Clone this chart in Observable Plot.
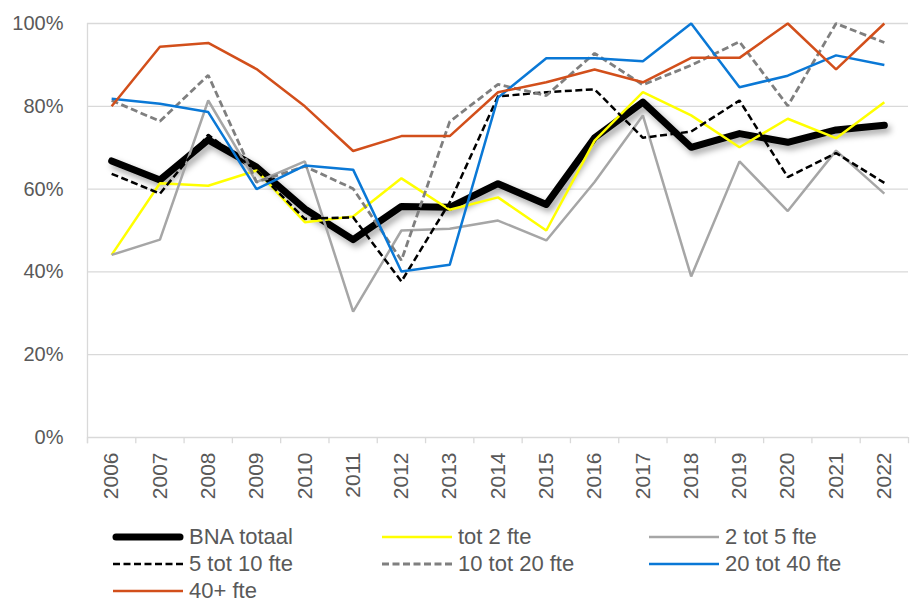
<!DOCTYPE html>
<html>
<head>
<meta charset="utf-8">
<script src="https://cdn.jsdelivr.net/npm/d3@7"></script>
<script src="https://cdn.jsdelivr.net/npm/@observablehq/plot@0.6"></script>
<style>
  body { margin: 0; background: #fff; font-family: "Liberation Sans", Arial, sans-serif; }
  #chart svg { display: block; }
  #legend { position: relative; height: 87px; }
  .item { position: absolute; display: flex; align-items: center; height: 27px; font-size: 22px; color: #595959; white-space: nowrap; }
  .item svg { margin-right: 6px; overflow: visible; }
</style>
</head>
<body>
<div id="chart"></div>
<div id="legend"></div>
<script>
const years = [2006, 2007, 2008, 2009, 2010, 2011, 2012, 2013, 2014, 2015, 2016, 2017, 2018, 2019, 2020, 2021, 2022];
const yTicks = [0, 20, 40, 60, 80, 100];

const seriesNames = ["BNA totaal", "tot 2 fte", "2 tot 5 fte", "5 tot 10 fte", "10 tot 20 fte", "20 tot 40 fte", "40+ fte"];

const bnaTotaal = [66.8, 62.2, 71.9, 65.3, 55.2, 47.8, 55.8, 55.6, 61.3, 56.3, 72.4, 81.0, 70.1, 73.4, 71.3, 74.3, 75.4];
const tot2 = [44.1, 61.4, 60.8, 64.5, 52.0, 53.4, 62.6, 55.0, 58.0, 50.0, 71.7, 83.4, 77.8, 70.1, 77.0, 72.3, 81.0];
const tot2tot5 = [44.1, 47.8, 81.4, 61.7, 66.7, 30.4, 50.0, 50.4, 52.4, 47.6, 61.7, 77.8, 38.9, 66.7, 54.7, 69.3, 58.9];
const tot5tot10 = [63.7, 58.9, 73.1, 64.5, 52.8, 53.2, 37.7, 56.8, 82.4, 83.4, 84.1, 72.4, 73.9, 81.4, 62.9, 68.7, 61.5];
const tot10tot20 = [81.4, 76.4, 87.5, 61.7, 65.5, 60.1, 42.8, 76.3, 85.3, 82.6, 92.8, 85.2, 89.9, 95.6, 80.1, 100, 95.4];
const tot20tot40 = [81.8, 80.6, 78.6, 60.0, 65.7, 64.7, 40.1, 41.7, 82.1, 91.6, 91.6, 90.9, 100, 84.6, 87.4, 92.3, 90.0];
const plus40 = [80.0, 94.4, 95.3, 89.0, 80.0, 69.2, 72.8, 72.8, 83.4, 85.8, 88.9, 85.8, 91.7, 91.7, 100, 88.9, 100];

const seriesValues = [bnaTotaal, tot2, tot2tot5, tot5tot10, tot10tot20, tot20tot40, plus40];
const styles = [
  {stroke: "#000000", width: 7, dash: null},
  {stroke: "#ffff00", width: 2.5, dash: null},
  {stroke: "#a6a6a6", width: 2.5, dash: null},
  {stroke: "#000000", width: 2.5, dash: "7,3.5"},
  {stroke: "#7f7f7f", width: 2.8, dash: "7,3.5"},
  {stroke: "#0a78d6", width: 2.5, dash: null},
  {stroke: "#d24f1b", width: 2.5, dash: null}
];

const data = seriesNames.flatMap((name, s) => years.map((year, i) => ({series: name, year, value: seriesValues[s][i]})));
const boundaries = [years[0] - 0.5, ...years.map(y => y + 0.5)];

const lineMarks = seriesNames.map((name, s) => Plot.line(data.filter(d => d.series === name), {
  x: "year", y: "value",
  stroke: styles[s].stroke,
  strokeWidth: styles[s].width,
  strokeDasharray: styles[s].dash,
  strokeLinejoin: s === 0 ? "round" : "miter",
  strokeLinecap: s === 0 ? "round" : "butt"
}));

const chart = Plot.plot({
  width: 910, height: 515,
  marginLeft: 87, marginRight: 2, marginTop: 23, marginBottom: 78,
  style: {fontFamily: "'Liberation Sans', Arial, sans-serif", background: "#fff"},
  x: {domain: [years[0] - 0.5, years[years.length - 1] + 0.5], axis: null},
  y: {domain: [0, 100], axis: null},
  marks: [
    Plot.ruleY(yTicks, {stroke: "#d9d9d9", strokeWidth: 1.3}),
    Plot.ruleX(boundaries, {y1: -1.5, y2: 0, stroke: "#d9d9d9", strokeWidth: 1.3}),
    Plot.ruleX([boundaries[0]], {y1: -1.5, y2: 100, stroke: "#d9d9d9", strokeWidth: 1.3}),
    Plot.text(yTicks, {x: boundaries[0], y: d => d, text: d => d + "%", textAnchor: "end", dx: -24, fontSize: 20, fill: "#595959"}),
    Plot.text(years, {x: d => d, y: 0, text: d => String(d), rotate: -90, textAnchor: "end", dy: 15, fontSize: 21, fill: "#595959"}),
    ...lineMarks
  ]
});
document.getElementById("chart").appendChild(chart);
const lineGroups = chart.querySelectorAll('g[aria-label="line"]');
if (lineGroups.length) lineGroups[0].style.filter = "drop-shadow(3px 4px 3px rgba(0,0,0,0.35))";

// legend
const legend = document.getElementById("legend");
const colX = [113, 382, 649];
const rowTop = [8.5, 35.5, 62.5];
seriesNames.forEach((name, s) => {
  const col = s % 3, row = Math.floor(s / 3);
  const item = document.createElement("div");
  item.className = "item";
  item.style.left = colX[col] + "px";
  item.style.top = rowTop[row] + "px";
  const st = styles[s];
  item.innerHTML = `<svg width="70" height="10"><line x1="${s===0?3:0}" x2="${s===0?67:70}" y1="5" y2="5" stroke="${st.stroke}" stroke-width="${st.width}" stroke-linecap="${s===0?'round':'butt'}" ${st.dash ? `stroke-dasharray="${st.dash}"` : ""}/></svg><span>${name}</span>`;
  legend.appendChild(item);
});
</script>
</body>
</html>
